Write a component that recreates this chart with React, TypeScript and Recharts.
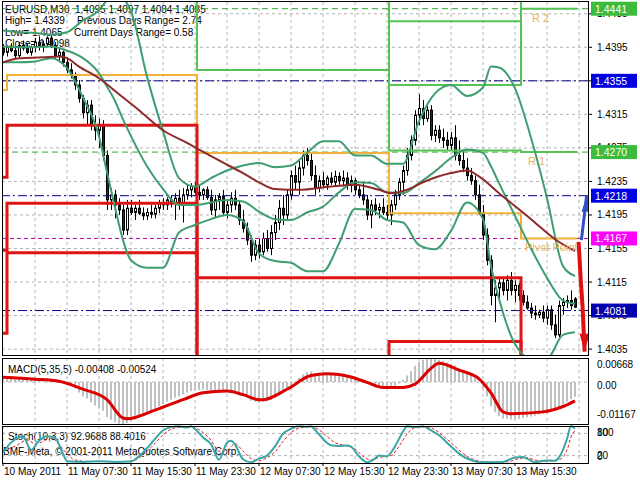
import React from 'react';
import { ComposedChart, Bar, Line, XAxis, YAxis, CartesianGrid, ReferenceLine, ReferenceDot } from 'recharts';

const FONT = '"Liberation Sans", Arial, sans-serif';

// ---------------- data ----------------
const timeTicks = [0, 16, 32, 48, 64, 80, 96, 112, 128];
const timeLabels = ['10 May 2011', '11 May 07:30', '11 May 15:30', '11 May 23:30', '12 May 07:30', '12 May 15:30', '12 May 23:30', '13 May 07:30', '13 May 15:30'];
const gridTicks = [0, 8, 16, 24, 32, 40, 48, 56, 64, 72, 80, 88, 96, 104, 112, 120, 128, 136, 144];
const priceTicks = [1.4035, 1.4075, 1.4115, 1.4155, 1.4195, 1.4235, 1.4275, 1.4315, 1.4355, 1.4395, 1.4435];

const opens = [
  1.4394, 1.4389, 1.4395, 1.4391, 1.4385, 1.4397, 1.4394, 1.4389, 1.4395, 1.4401,
  1.4396, 1.4399, 1.4406, 1.4397, 1.4385, 1.4389, 1.4377, 1.4368, 1.4362, 1.4350,
  1.4334, 1.4317, 1.4326, 1.4302, 1.4296, 1.4302, 1.4266, 1.4213, 1.4219, 1.4207,
  1.4201, 1.4177, 1.4203, 1.4198, 1.4203, 1.4197, 1.4194, 1.4198, 1.4196, 1.4203,
  1.4209, 1.4207, 1.4213, 1.4209, 1.4215, 1.4207, 1.4219, 1.4225, 1.4229, 1.4222,
  1.4219, 1.4225, 1.4216, 1.4201, 1.4213, 1.4217, 1.4198, 1.4207, 1.4215, 1.4207,
  1.4189, 1.4179, 1.4165, 1.4147, 1.4159, 1.4151, 1.4167, 1.4155, 1.4174, 1.4186,
  1.4203, 1.4195, 1.4219, 1.4242, 1.4234, 1.4251, 1.4266, 1.4260, 1.4242, 1.4227,
  1.4236, 1.4231, 1.4239, 1.4234, 1.4241, 1.4236, 1.4239, 1.4231, 1.4236, 1.4225,
  1.4219, 1.4213, 1.4195, 1.4207, 1.4201, 1.4204, 1.4198, 1.4195, 1.4207, 1.4219,
  1.4234, 1.4248, 1.4266, 1.4284, 1.4314, 1.4322, 1.4310, 1.4320, 1.4290, 1.4296,
  1.4287, 1.4284, 1.4278, 1.4287, 1.4266, 1.4260, 1.4251, 1.4242, 1.4236, 1.4219,
  1.4198, 1.4171, 1.4141, 1.4099, 1.4108, 1.4114, 1.4105, 1.4117, 1.4105, 1.4111,
  1.4099, 1.4091, 1.4084, 1.4078, 1.4076, 1.4079, 1.4072, 1.4082, 1.4064, 1.4052,
  1.4087, 1.4091, 1.4093, 1.4095,
];
const highs = [
  1.4399, 1.4397, 1.4400, 1.4396, 1.4401, 1.4403, 1.4399, 1.4397, 1.4406, 1.4408,
  1.4403, 1.4408, 1.4410, 1.4401, 1.4394, 1.4391, 1.4382, 1.4376, 1.4365, 1.4356,
  1.4338, 1.4332, 1.4332, 1.4314, 1.4310, 1.4308, 1.4272, 1.4227, 1.4225, 1.4215,
  1.4207, 1.4213, 1.4213, 1.4207, 1.4213, 1.4204, 1.4203, 1.4207, 1.4207, 1.4213,
  1.4215, 1.4216, 1.4219, 1.4221, 1.4225, 1.4227, 1.4231, 1.4233, 1.4234, 1.4231,
  1.4227, 1.4229, 1.4225, 1.4219, 1.4221, 1.4225, 1.4213, 1.4222, 1.4225, 1.4213,
  1.4201, 1.4186, 1.4171, 1.4165, 1.4167, 1.4174, 1.4177, 1.4183, 1.4195, 1.4213,
  1.4219, 1.4225, 1.4248, 1.4254, 1.4260, 1.4272, 1.4275, 1.4270, 1.4254, 1.4242,
  1.4246, 1.4242, 1.4246, 1.4248, 1.4246, 1.4248, 1.4246, 1.4242, 1.4239, 1.4231,
  1.4234, 1.4219, 1.4213, 1.4215, 1.4209, 1.4215, 1.4207, 1.4213, 1.4225, 1.4239,
  1.4254, 1.4275, 1.4290, 1.4320, 1.4339, 1.4332, 1.4329, 1.4326, 1.4302, 1.4302,
  1.4298, 1.4294, 1.4294, 1.4302, 1.4284, 1.4272, 1.4263, 1.4251, 1.4242, 1.4231,
  1.4207, 1.4179, 1.4147, 1.4117, 1.4120, 1.4121, 1.4123, 1.4127, 1.4117, 1.4114,
  1.4105, 1.4099, 1.4090, 1.4087, 1.4082, 1.4087, 1.4087, 1.4087, 1.4076, 1.4093,
  1.4096, 1.4099, 1.4105, 1.4097,
];
const lows = [
  1.4385, 1.4384, 1.4389, 1.4382, 1.4383, 1.4391, 1.4387, 1.4385, 1.4389, 1.4391,
  1.4389, 1.4395, 1.4394, 1.4382, 1.4379, 1.4372, 1.4364, 1.4358, 1.4344, 1.4329,
  1.4310, 1.4302, 1.4296, 1.4284, 1.4275, 1.4260, 1.4201, 1.4201, 1.4191, 1.4195,
  1.4171, 1.4171, 1.4195, 1.4189, 1.4195, 1.4189, 1.4189, 1.4191, 1.4191, 1.4197,
  1.4201, 1.4201, 1.4204, 1.4189, 1.4201, 1.4186, 1.4213, 1.4216, 1.4219, 1.4213,
  1.4213, 1.4213, 1.4195, 1.4192, 1.4201, 1.4195, 1.4191, 1.4198, 1.4201, 1.4183,
  1.4174, 1.4159, 1.4139, 1.4141, 1.4143, 1.4147, 1.4151, 1.4147, 1.4165, 1.4177,
  1.4183, 1.4189, 1.4213, 1.4225, 1.4219, 1.4242, 1.4254, 1.4236, 1.4219, 1.4222,
  1.4227, 1.4225, 1.4231, 1.4229, 1.4231, 1.4229, 1.4225, 1.4222, 1.4219, 1.4215,
  1.4207, 1.4189, 1.4179, 1.4195, 1.4191, 1.4195, 1.4189, 1.4183, 1.4201, 1.4213,
  1.4219, 1.4242, 1.4260, 1.4278, 1.4302, 1.4302, 1.4306, 1.4284, 1.4282, 1.4281,
  1.4275, 1.4272, 1.4272, 1.4260, 1.4254, 1.4246, 1.4236, 1.4231, 1.4213, 1.4195,
  1.4165, 1.4135, 1.4087, 1.4067, 1.4093, 1.4099, 1.4093, 1.4099, 1.4091, 1.4093,
  1.4087, 1.4082, 1.4072, 1.4070, 1.4072, 1.4067, 1.4064, 1.4058, 1.4048, 1.4049,
  1.4076, 1.4084, 1.4082, 1.4084,
];
const closes = [
  1.4389, 1.4395, 1.4391, 1.4385, 1.4397, 1.4394, 1.4389, 1.4395, 1.4401, 1.4396,
  1.4399, 1.4406, 1.4397, 1.4385, 1.4389, 1.4377, 1.4368, 1.4362, 1.4350, 1.4334,
  1.4317, 1.4326, 1.4302, 1.4296, 1.4302, 1.4266, 1.4213, 1.4219, 1.4207, 1.4201,
  1.4177, 1.4203, 1.4198, 1.4203, 1.4197, 1.4194, 1.4198, 1.4196, 1.4203, 1.4209,
  1.4207, 1.4213, 1.4209, 1.4215, 1.4207, 1.4219, 1.4225, 1.4229, 1.4222, 1.4219,
  1.4225, 1.4216, 1.4201, 1.4213, 1.4217, 1.4198, 1.4207, 1.4215, 1.4207, 1.4189,
  1.4179, 1.4165, 1.4147, 1.4159, 1.4151, 1.4167, 1.4155, 1.4174, 1.4186, 1.4203,
  1.4195, 1.4219, 1.4242, 1.4234, 1.4251, 1.4266, 1.4260, 1.4242, 1.4227, 1.4236,
  1.4231, 1.4239, 1.4234, 1.4241, 1.4236, 1.4239, 1.4231, 1.4236, 1.4225, 1.4219,
  1.4213, 1.4195, 1.4207, 1.4201, 1.4204, 1.4198, 1.4195, 1.4207, 1.4219, 1.4234,
  1.4248, 1.4266, 1.4284, 1.4314, 1.4322, 1.4310, 1.4320, 1.4290, 1.4296, 1.4287,
  1.4284, 1.4278, 1.4287, 1.4266, 1.4260, 1.4251, 1.4242, 1.4236, 1.4219, 1.4198,
  1.4171, 1.4141, 1.4099, 1.4108, 1.4114, 1.4105, 1.4117, 1.4105, 1.4111, 1.4099,
  1.4091, 1.4084, 1.4078, 1.4076, 1.4079, 1.4072, 1.4082, 1.4064, 1.4052, 1.4087,
  1.4091, 1.4093, 1.4087, 1.4085,
];

// Bollinger bands (read at sample bars)
const bandIdx = [0, 4, 8, 12, 16, 20, 24, 26, 28, 30, 32, 36, 40, 44, 48, 52, 56, 60, 64, 68, 72, 76, 80, 84, 88, 92, 96, 100, 104, 108, 112, 116, 120, 122, 124, 128, 132, 136, 140, 143];
const bandUpper = [1.4415, 1.4413, 1.4412, 1.4410, 1.4413, 1.4427, 1.4439, 1.4451, 1.4457, 1.4453, 1.4438, 1.4360, 1.4295, 1.4239, 1.4229, 1.4239, 1.4248, 1.4254, 1.4257, 1.4252, 1.4254, 1.4269, 1.4283, 1.4283, 1.4266, 1.4266, 1.4256, 1.4256, 1.4307, 1.4340, 1.4350, 1.4337, 1.4347, 1.4372, 1.4371, 1.4346, 1.4287, 1.4215, 1.4134, 1.4122];
const bandMiddle = [1.4396, 1.4395, 1.4395, 1.4396, 1.4391, 1.4382, 1.4364, 1.4348, 1.4331, 1.4309, 1.4289, 1.4253, 1.4226, 1.4207, 1.4207, 1.4210, 1.4213, 1.4211, 1.4199, 1.4190, 1.4189, 1.4198, 1.4205, 1.4222, 1.4234, 1.4233, 1.4222, 1.4221, 1.4233, 1.4247, 1.4263, 1.4273, 1.4269, 1.4253, 1.4233, 1.4194, 1.4155, 1.4120, 1.4093, 1.4089];
const bandLower = [1.4377, 1.4377, 1.4378, 1.4382, 1.4370, 1.4335, 1.4289, 1.4246, 1.4204, 1.4165, 1.4141, 1.4132, 1.4132, 1.4174, 1.4183, 1.4190, 1.4195, 1.4188, 1.4149, 1.4140, 1.4138, 1.4128, 1.4128, 1.4161, 1.4202, 1.4201, 1.4189, 1.4186, 1.4159, 1.4154, 1.4176, 1.4210, 1.4190, 1.4134, 1.4095, 1.4041, 1.4024, 1.4024, 1.4052, 1.4055];

// moving average
const maIdx = [0, 4, 10, 14, 16, 19, 24, 29, 34, 40, 46, 49, 54, 60, 64, 68, 74, 82, 88, 94, 97, 101, 105, 112, 116, 119, 124, 132, 138, 143];
const maValues = [1.4377, 1.4382, 1.4383, 1.4384, 1.4382, 1.4372, 1.4358, 1.4339, 1.4320, 1.4296, 1.4281, 1.4273, 1.4260, 1.4245, 1.4234, 1.4226, 1.4225, 1.4229, 1.4231, 1.4225, 1.4221, 1.4225, 1.4234, 1.4245, 1.4248, 1.4241, 1.4221, 1.4190, 1.4166, 1.4152];

// daily pivot levels (periods start at these bars)
const periodStarts = [-0.25, 1, 48.5, 96.5, 129.5];
const periodEnd = 143.5;
const pivotLevels = [1.4344, 1.4362, 1.4269, 1.4197, 1.4167];
const r1Levels = [1.4470, 1.4455, 1.4368, 1.4272, 1.4270];
const r2Levels = [1.4520, 1.4515, 1.4517, 1.4350, 1.4441];
const r3Levels = [1.4580, 1.4575, 1.4600, 1.4426, 1.4545];
const s1Levels = [1.4240, 1.4302, 1.4120, 1.4120, 1.3995];
const s2Levels = [1.4153, 1.4209, 1.4021, 1.4044, 1.3900];
const s3Levels = [1.4054, 1.4150, 1.3950, 1.3900, 1.3800];

// horizontal price levels with right-side tags
const levelValues = [1.4441, 1.4355, 1.4270, 1.4218, 1.4167, 1.4081];

// projection arrows
const upArrowIdx = [144.6, 145.9];
const upArrowVals = [1.4165, 1.4218];
const downArrowIdx = [143.9, 144.4, 144.9, 145.4];
const downArrowVals = [1.4163, 1.4120, 1.4085, 1.4032];

// MACD
const macdHist = [
  0.0012, 0.0011, 0.0010, 0.0010, 0.0010, 0.0009, 0.0009, 0.0009, 0.0010, 0.0009,
  0.0009, 0.0010, 0.0008, 0.0006, 0.0004, 0.0001, -0.0004, -0.0010, -0.0018, -0.0029,
  -0.0040, -0.0046, -0.0056, -0.0065, -0.0070, -0.0080, -0.0097, -0.0105, -0.0112, -0.0116,
  -0.01167, -0.0114, -0.0110, -0.0105, -0.0099, -0.0093, -0.0087, -0.0081, -0.0074, -0.0067,
  -0.0061, -0.0055, -0.0049, -0.0044, -0.0040, -0.0034, -0.0029, -0.0025, -0.0023, -0.0022,
  -0.0021, -0.0022, -0.0025, -0.0024, -0.0023, -0.0026, -0.0027, -0.0026, -0.0027, -0.0031,
  -0.0037, -0.0043, -0.0052, -0.0055, -0.0057, -0.0055, -0.0054, -0.0050, -0.0043, -0.0034,
  -0.0028, -0.0019, -0.0008, 0.0002, 0.0011, 0.0021, 0.0028, 0.0029, 0.0025, 0.0024,
  0.0022, 0.0022, 0.0021, 0.0022, 0.0021, 0.0021, 0.0019, 0.0017, 0.0013, 0.0008,
  0.0003, -0.0005, -0.0010, -0.0012, -0.0015, -0.0016, -0.0018, -0.0017, -0.0012, -0.0004,
  0.0006, 0.0018, 0.0030, 0.0045, 0.0056, 0.0062, 0.0066, 0.00668, 0.0065, 0.0062,
  0.0058, 0.0054, 0.0051, 0.0046, 0.0040, 0.0034, 0.0027, 0.0020, 0.0011, 0.0000,
  -0.0018, -0.0040, -0.0068, -0.0084, -0.0095, -0.0102, -0.0103, -0.0104, -0.0103, -0.0102,
  -0.0100, -0.0098, -0.0096, -0.0094, -0.0091, -0.0088, -0.0084, -0.0082, -0.0080, -0.0072,
  -0.0063, -0.0055, -0.0047, -0.00408,
];
const macdSignalIdx = [0, 8, 14, 20, 26, 30, 31, 38, 45, 50, 56, 60, 64, 65, 71, 77, 81, 87, 91, 95, 100, 103, 107, 109, 114, 119, 122, 125, 127, 135, 140, 143];
const macdSignal = [0.0013, 0.0008, 0.0002, -0.0020, -0.0049, -0.0100, -0.0102, -0.0078, -0.0049, -0.0030, -0.0025, -0.0035, -0.0049, -0.0049, -0.0020, 0.0018, 0.0023, 0.0014, -0.0001, -0.0015, -0.0015, -0.0006, 0.0038, 0.0052, 0.0033, 0.0009, -0.0030, -0.0083, -0.0088, -0.0083, -0.0068, -0.00524];
const macdTicks = [0.00668, 0, -0.01167];
const macdTickLabels = ['0.00668', '0.00', '-0.01167'];

// Stochastic
const stochMainIdx = [0, 2, 5, 7, 9, 11, 13, 15, 16, 20, 24, 28, 32, 34, 36, 38, 40, 42, 44, 46, 47, 48, 50, 52, 54, 56, 57, 58, 60, 62, 64, 66, 68, 70, 72, 74, 76, 77, 78, 80, 82, 84, 86, 87, 89, 91, 93, 94, 96, 98, 100, 101, 103, 105, 107, 109, 111, 113, 115, 117, 119, 122, 125, 128, 130, 131, 133, 136, 138, 139, 141, 142, 143];
const stochMain = [28, 55, 72, 35, 60, 72, 68, 25, 5, 3, 5, 3, 4, 18, 40, 65, 88, 97, 99, 96, 99, 92, 69, 51, 9, 55, 60, 50, 10, 2, 12, 20, 45, 79, 92, 99, 98, 99, 90, 65, 48, 46, 47, 44, 18, 2, 12, 20, 18, 45, 85, 99, 97, 99, 88, 75, 55, 35, 18, 8, 2, 2, 3, 15, 16, 12, 2, 7, 6, 15, 65, 100, 92.97];
const stochSigIdx = [0, 3, 6, 8, 10, 12, 14, 16, 18, 22, 30, 33, 35, 37, 39, 41, 43, 46, 48, 50, 52, 54, 56, 58, 60, 62, 64, 66, 68, 70, 72, 74, 77, 79, 81, 83, 86, 88, 90, 92, 94, 97, 99, 101, 103, 106, 108, 110, 112, 114, 116, 118, 121, 126, 129, 131, 133, 136, 139, 141, 142, 143];
const stochSig = [35, 45, 62, 52, 58, 68, 50, 25, 8, 4, 4, 8, 22, 42, 65, 85, 95, 97, 95, 82, 62, 32, 35, 52, 32, 12, 6, 14, 30, 58, 82, 94, 98, 90, 72, 55, 46, 38, 18, 8, 15, 20, 45, 78, 95, 97, 90, 73, 55, 35, 18, 8, 3, 3, 12, 14, 8, 5, 9, 35, 70, 88.4];
const stochTicks = [0, 20, 80, 100];

// ---------------- styling ----------------
const X_DOMAIN: [number, number] = [-0.25, 146.25];
const Y_DOMAIN: [number, number] = [1.4028, 1.4449];
const LEVEL_STYLE = [
  { color: '#2fa82f', dash: '6 4', bg: '#3cbc3c' },
  { color: '#000080', dash: '9 3 2 3', bg: '#0000e0' },
  { color: '#2fa82f', dash: '6 4', bg: '#3cbc3c' },
  { color: '#000080', dash: '9 3 2 3', bg: '#0000e0' },
  { color: '#c000c0', dash: '4 3', bg: '#ff00ff' },
  { color: '#000080', dash: '9 3 2 3', bg: '#0000b0' },
];

// ---------------- derived tables ----------------
const candles = opens.map((o, k) => ({ i: k, open: o, high: highs[k], low: lows[k], close: closes[k], hist: macdHist[k] }));
const toPts = (idx: number[], vals: number[]) => idx.map((i, k) => ({ i, v: vals[k] }));
const stepPts = (levels: number[]) => [
  ...periodStarts.map((s, k) => ({ i: s, v: levels[k] })),
  { i: periodEnd, v: levels[levels.length - 1] },
];
const bandData = bandIdx.map((i, k) => ({ i, u: bandUpper[k], m: bandMiddle[k], l: bandLower[k] }));

// ---------------- shapes ----------------
const Candle = (props: any) => {
  const { x, y, width, height, payload } = props;
  if (x == null || y == null || !payload) return <g />;
  const cx = Math.round(x + width / 2);
  const top = Math.min(y, y + height);
  const h = Math.abs(height);
  const { open, close, high, low } = payload;
  const span = high - low;
  const toY = (v: number) => (span === 0 ? top : top + ((high - v) / span) * h);
  const yo = toY(open);
  const yc = toY(close);
  const bt = Math.min(yo, yc);
  const bb = Math.max(yo, yc);
  const bull = close >= open;
  return (
    <g>
      <line x1={cx + 0.5} x2={cx + 0.5} y1={top} y2={top + h} stroke="#000" strokeWidth={1} />
      <rect x={cx - 0.5} y={bt} width={2} height={Math.max(bb - bt, 1)} fill={bull ? '#ffffff' : '#0e3b0e'} stroke="#000" strokeWidth={1} />
    </g>
  );
};

const MainTick = (p: any) => (
  <text x={p.x} y={p.y} dy={3.5} fontSize={10} fontFamily={FONT} fill="#000" textAnchor="start">
    {Number(p.payload.value).toFixed(4)}
  </text>
);

const MacdTick = (p: any) => {
  const k = macdTicks.indexOf(p.payload.value);
  const dy = k === 0 ? 9.5 : k === 1 ? 6.5 : -6.5;
  return (
    <text x={p.x} y={p.y} dy={dy} fontSize={10} fontFamily={FONT} fill="#000" textAnchor="start">
      {macdTickLabels[k]}
    </text>
  );
};

const StochTick = (p: any) => {
  const v = p.payload.value;
  const dy = v === 100 ? 9.5 : v === 0 ? -3.5 : 3;
  return (
    <text x={p.x} y={p.y} dy={dy} fontSize={10} fontFamily={FONT} fill="#000" textAnchor="start">
      {v}
    </text>
  );
};

const TimeTick = (p: any) => {
  const k = timeTicks.indexOf(p.payload.value);
  return (
    <text x={p.x + 1} y={p.y} dy="0.71em" fontSize={10} fontFamily={FONT} fill="#000" textAnchor="start">
      {timeLabels[k]}
    </text>
  );
};

const PriceTag = ({ viewBox, text, bg }: any) => {
  if (!viewBox) return <g />;
  const x = viewBox.x + viewBox.width + 3;
  const y = viewBox.y;
  return (
    <g>
      <rect x={x} y={y - 7} width={46} height={14} fill={bg} />
      <text x={x + 4} y={y + 4} fill="#fff" fontSize={10.5} fontFamily={FONT}>{text}</text>
    </g>
  );
};

const levelText = (txt: string) => (p: any) => {
  const vb = p.viewBox;
  if (!vb) return <g />;
  return (
    <text x={vb.x + 1} y={vb.y + 14} fill="#eab35a" fontSize={11} fontFamily={FONT}>{txt}</text>
  );
};

const upHead = (p: any) => {
  if (p.index !== upArrowIdx.length - 1) return <g key={`u${p.index}`} />;
  const { cx, cy } = p;
  return <polygon key="uh" points={`${cx},${cy} ${cx - 5},${cy + 16} ${cx + 5},${cy + 16}`} fill="#3050c8" />;
};
const downHead = (p: any) => {
  if (p.index !== downArrowIdx.length - 1) return <g key={`d${p.index}`} />;
  const { cx, cy } = p;
  return <polygon key="dh" points={`${cx},${cy} ${cx - 5},${cy - 18} ${cx + 5},${cy - 18}`} fill="#e01010" />;
};

const txt = (left: number, top: number, s: string) => (
  <div style={{ position: 'absolute', left, top, fontSize: 10, lineHeight: '12px', whiteSpace: 'pre', color: '#000' }}>{s}</div>
);

const box = (left: number, top: number, width: number, height: number) => (
  <div style={{ position: 'absolute', left, top, width, height, border: '1px solid #000', boxSizing: 'border-box', pointerEvents: 'none' }} />
);

const MAIN_MARGIN = { top: 2, right: 0, bottom: 2, left: 2 };

export default function App() {
  return (
    <div style={{ position: 'fixed', left: 0, top: 0, width: 640, height: 480, background: '#fff', fontFamily: FONT, overflow: 'hidden' }}>
      {/* texts beneath the plots */}
      {txt(5, 4, 'EURUSD,M30  1.4095 1.4097 1.4084 1.4085')}
      {txt(5, 15, 'High= 1.4339')}
      {txt(77, 15, 'Previous Days Range= 2.74')}
      {txt(5, 27, 'Low= 1.4065')}
      {txt(74, 27, 'Current Days Range= 0.58')}
      {txt(5, 38, 'Close= 1.4098')}
      {txt(8, 364, 'MACD(5,35,5) -0.00408 -0.00524')}
      {txt(8, 431, 'Stoch(10,3,3) 92.9688 88.4016')}
      {txt(3, 446, 'BMF-Meta, © 2001-2011 MetaQuotes Software Corp.')}

      {/* main price window */}
      <div style={{ position: 'absolute', left: 0, top: 0 }}>
        <ComposedChart width={640} height={357} data={candles} margin={MAIN_MARGIN}>
          <CartesianGrid stroke="#b4b4b4" strokeDasharray="3 3" verticalValues={gridTicks} horizontalValues={priceTicks} />
          <XAxis dataKey="i" type="number" domain={X_DOMAIN} ticks={gridTicks} hide allowDataOverflow />
          <YAxis orientation="right" width={52} domain={Y_DOMAIN} allowDataOverflow ticks={priceTicks} interval={0}
            tick={<MainTick />} tickSize={4} tickMargin={5} tickLine={{ stroke: '#000' }} axisLine={false} />
          {levelValues.map((v, k) => (
            <ReferenceLine key={`lv${k}`} y={v} stroke={LEVEL_STYLE[k].color} strokeDasharray={LEVEL_STYLE[k].dash} strokeWidth={1} />
          ))}
          <Line data={stepPts(r3Levels)} dataKey="v" type="stepAfter" stroke="#55c455" strokeWidth={2} dot={false} isAnimationActive={false} />
          <Line data={stepPts(r2Levels)} dataKey="v" type="stepAfter" stroke="#55c455" strokeWidth={2} dot={false} isAnimationActive={false} />
          <Line data={stepPts(r1Levels)} dataKey="v" type="stepAfter" stroke="#55c455" strokeWidth={2} dot={false} isAnimationActive={false} />
          <Line data={stepPts(pivotLevels)} dataKey="v" type="stepAfter" stroke="#f2b23c" strokeWidth={2} dot={false} isAnimationActive={false} />
          <Line data={stepPts(s1Levels)} dataKey="v" type="stepAfter" stroke="#e01414" strokeWidth={3} dot={false} isAnimationActive={false} />
          <Line data={stepPts(s2Levels)} dataKey="v" type="stepAfter" stroke="#e01414" strokeWidth={3} dot={false} isAnimationActive={false} />
          <Line data={stepPts(s3Levels)} dataKey="v" type="stepAfter" stroke="#e01414" strokeWidth={3} dot={false} isAnimationActive={false} />
          <Line data={bandData} dataKey="u" type="monotone" stroke="#3f9e70" strokeWidth={2} dot={false} isAnimationActive={false} />
          <Line data={bandData} dataKey="m" type="monotone" stroke="#3f9e70" strokeWidth={2} dot={false} isAnimationActive={false} />
          <Line data={bandData} dataKey="l" type="monotone" stroke="#3f9e70" strokeWidth={2} dot={false} isAnimationActive={false} />
          <Line data={toPts(maIdx, maValues)} dataKey="v" type="monotone" stroke="#8e2a2a" strokeWidth={2} dot={false} isAnimationActive={false} />
          <Bar dataKey={(d: any) => [d.low, d.high]} barSize={3} shape={<Candle />} isAnimationActive={false} />
          <Line data={toPts(upArrowIdx, upArrowVals)} dataKey="v" type="linear" stroke="#3050c8" strokeWidth={3} dot={upHead} activeDot={false} isAnimationActive={false} />
          <Line data={toPts(downArrowIdx, downArrowVals)} dataKey="v" type="linear" stroke="#e01010" strokeWidth={4} dot={downHead} activeDot={false} isAnimationActive={false} />
          <ReferenceDot x={132.25} y={1.4441} r={1} fill="none" stroke="none" label={levelText('R 2')} />
          <ReferenceDot x={131.25} y={1.4270} r={1} fill="none" stroke="none" label={levelText('R 1')} />
          <ReferenceDot x={130.5} y={1.4167} r={1} fill="none" stroke="none" label={levelText('Pivot Point')} />
        </ComposedChart>
      </div>

      {/* price tags layer, same scales, drawn above the axis labels */}
      <div style={{ position: 'absolute', left: 0, top: 0, pointerEvents: 'none' }}>
        <ComposedChart width={640} height={357} data={candles} margin={MAIN_MARGIN}>
          <XAxis dataKey="i" type="number" domain={X_DOMAIN} hide allowDataOverflow />
          <YAxis orientation="right" width={52} domain={Y_DOMAIN} allowDataOverflow tick={false} tickLine={false} axisLine={false} />
          {levelValues.map((v, k) => (
            <ReferenceLine key={`tag${k}`} y={v} stroke="none"
              label={(p: any) => <PriceTag viewBox={p.viewBox} text={v.toFixed(4)} bg={LEVEL_STYLE[k].bg} />} />
          ))}
        </ComposedChart>
      </div>

      {/* MACD window */}
      <div style={{ position: 'absolute', left: 0, top: 357 }}>
        <ComposedChart width={640} height={68} data={candles} margin={{ top: 1, right: 0, bottom: 1, left: 2 }}>
          <CartesianGrid stroke="#b4b4b4" strokeDasharray="3 3" verticalValues={gridTicks} horizontalValues={[0]} />
          <XAxis dataKey="i" type="number" domain={X_DOMAIN} ticks={gridTicks} hide allowDataOverflow />
          <YAxis orientation="right" width={52} domain={[-0.01167, 0.00668]} allowDataOverflow ticks={macdTicks} interval={0}
            tick={<MacdTick />} tickSize={4} tickMargin={5} tickLine={false} axisLine={false} />
          <Bar dataKey="hist" barSize={2} fill="#c0c0c0" isAnimationActive={false} />
          <Line data={toPts(macdSignalIdx, macdSignal)} dataKey="v" type="monotone" stroke="#dd0000" strokeWidth={3} dot={false} isAnimationActive={false} />
        </ComposedChart>
      </div>

      {/* Stochastic window */}
      <div style={{ position: 'absolute', left: 0, top: 425 }}>
        <ComposedChart width={640} height={55} data={candles} margin={{ top: 1, right: 0, bottom: 0, left: 2 }}>
          <CartesianGrid stroke="#b4b4b4" strokeDasharray="3 3" verticalValues={gridTicks} horizontalValues={[20, 80]} />
          <XAxis dataKey="i" type="number" domain={X_DOMAIN} ticks={timeTicks} interval={0} height={17} allowDataOverflow
            tick={<TimeTick />} tickSize={3} tickMargin={2} tickLine={{ stroke: '#000' }} axisLine={false} />
          <YAxis orientation="right" width={52} domain={[0, 100]} ticks={stochTicks} interval={0}
            tick={<StochTick />} tickSize={4} tickMargin={5} tickLine={false} axisLine={false} />
          <Line data={toPts(stochSigIdx, stochSig)} dataKey="v" type="monotone" stroke="#e02020" strokeWidth={1} strokeDasharray="3 2" dot={false} isAnimationActive={false} />
          <Line data={toPts(stochMainIdx, stochMain)} dataKey="v" type="monotone" stroke="#3aa6a6" strokeWidth={2} dot={false} isAnimationActive={false} />
        </ComposedChart>
      </div>

      {/* panel frames */}
      {box(2, 1, 587, 355)}
      {box(2, 358, 587, 67)}
      {box(2, 426, 587, 38)}
    </div>
  );
}
